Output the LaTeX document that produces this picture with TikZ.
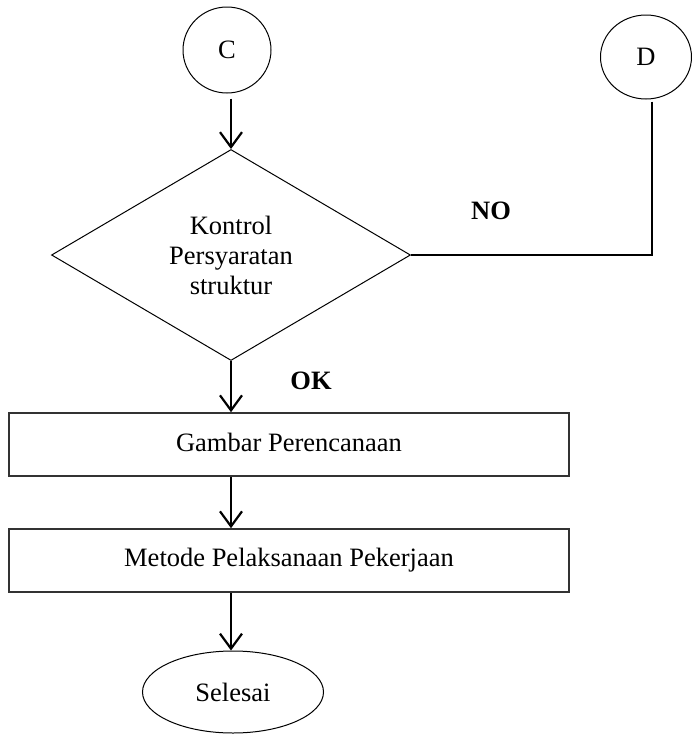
\documentclass[tikz,border=0pt]{standalone}
\usepackage{fontspec}
\setmainfont{Liberation Serif}
\usetikzlibrary{shapes.geometric,arrows.meta}
\begin{document}
\begin{tikzpicture}[x=1pt,y=-1pt,
  every node/.style={font=\fontsize{26.5}{30}\selectfont},
  conn/.style={ellipse,draw,line width=1pt,inner sep=0pt},
  procbox/.style={rectangle,draw=black!80,line width=1.6pt,minimum width=560pt,minimum height=63pt,inner sep=0pt},
  decis/.style={diamond,draw,line width=1pt,minimum width=359pt,minimum height=211pt,inner sep=0pt,align=center},
  arr/.style={line width=2.2pt,-{Straight Barb[length=15pt,width=22pt,line width=2.2pt]}},
  lnk/.style={line width=1.6pt},
  lbl/.style={font=\fontsize{26.5}{30}\selectfont\bfseries}]
\useasboundingbox (0,0) rectangle (692,734);
\node[conn,minimum width=88pt,minimum height=86pt] (C) at (227,50) {C};
\node[conn,minimum width=91pt,minimum height=84pt] (D) at (646,57) {D};
\node[decis] (K) at (231,255) {Kontrol\\Persyaratan\\struktur};
\node[procbox] (R1) at (289,444.5) {\raisebox{4pt}{Gambar Perencanaan}};
\node[procbox] (R2) at (289,560.5) {\raisebox{5pt}{Metode Pelaksanaan Pekerjaan}};
\node[conn,minimum width=181pt,minimum height=82pt] (S) at (233,692) {Selesai};
\node[lbl] (NO) at (491,211) {NO};
\node[lbl] (OK) at (311,381) {OK};
\coordinate (Cb) at ([yshift=-5pt]C.south -| K.north);
\draw[arr] (Cb) -- (K.north);
\draw[lnk] ([xshift=6pt,yshift=-2pt]D.south) |- (K.east);
\draw[arr] (K.south) -- (K.south |- R1.north);
\draw[arr] (K.south |- R1.south) -- (K.south |- R2.north);
\draw[arr] (K.south |- R2.south) -- (K.south |- S.north);
\end{tikzpicture}
\end{document}
